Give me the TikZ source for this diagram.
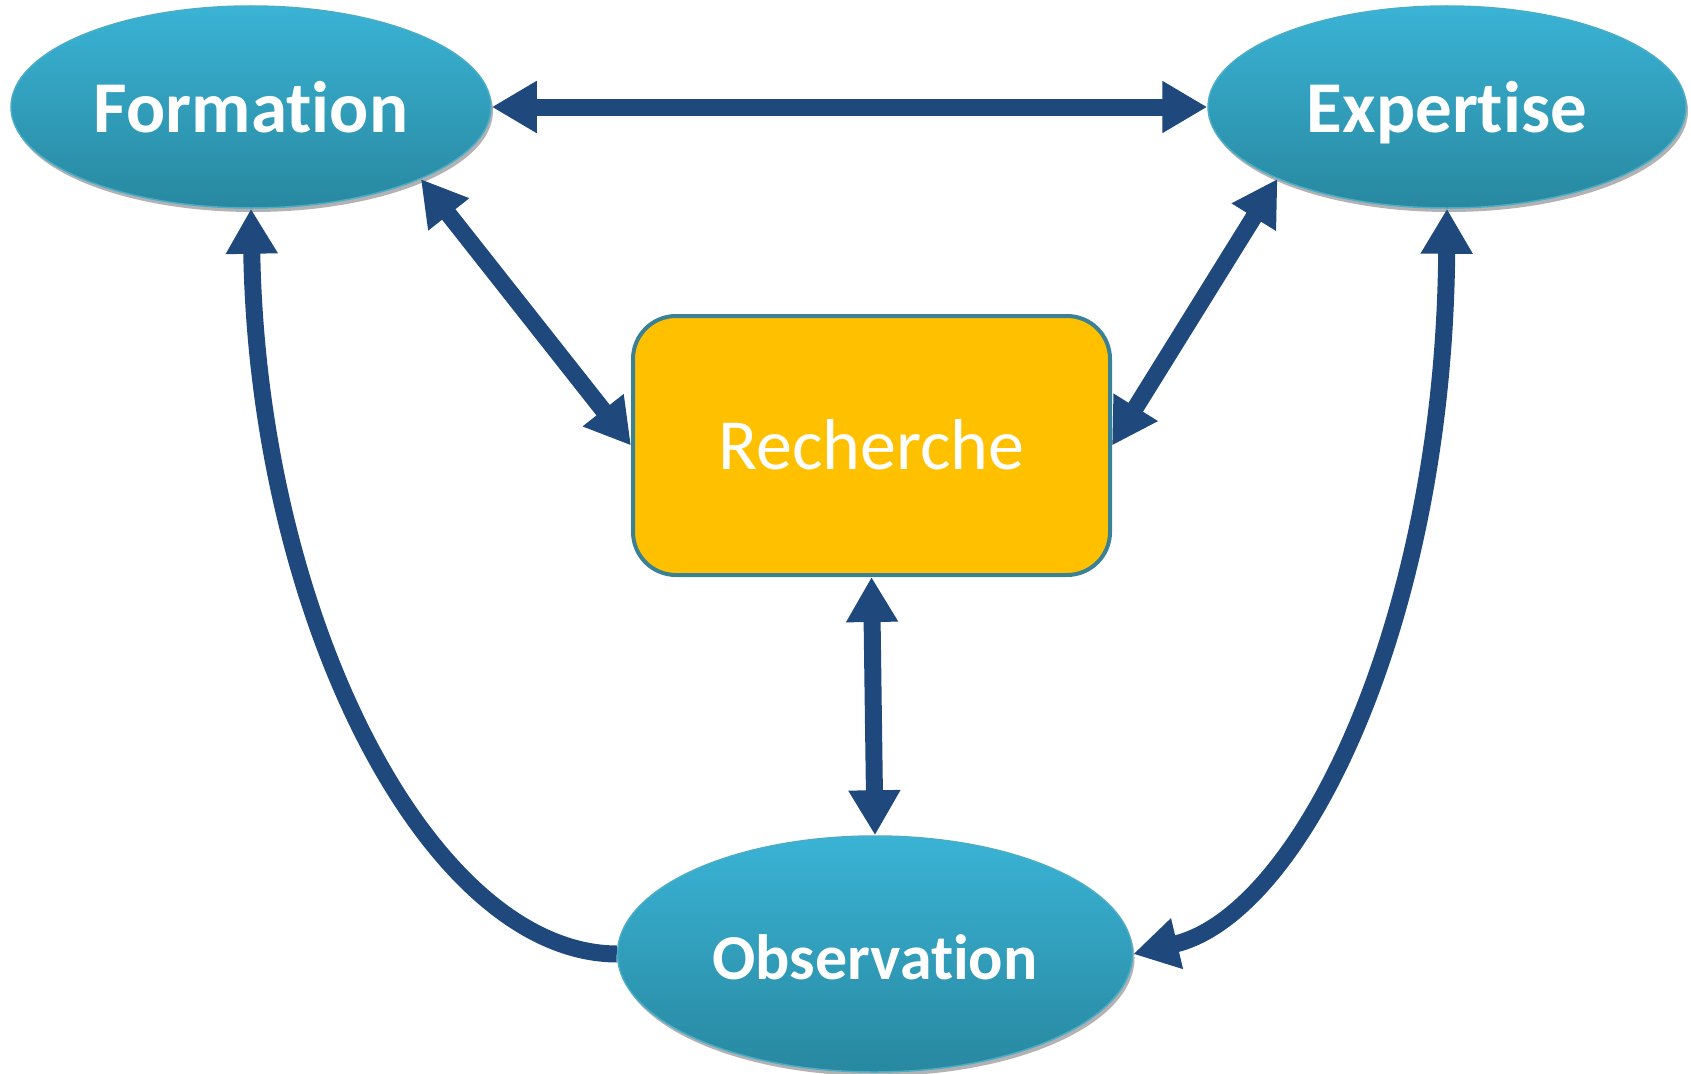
\documentclass[tikz,border=0pt]{standalone}
\usepackage{fontspec}
\setmainfont{Carlito}[Ligatures=CommonOff]
\usetikzlibrary{arrows.meta,shapes.geometric,shadows}
\definecolor{arrowblue}{HTML}{1F497D}
\definecolor{elltop}{HTML}{3AB3D5}
\definecolor{ellbot}{HTML}{2888A0}
\definecolor{ellborder}{HTML}{4BACC6}
\definecolor{boxfill}{HTML}{FFC000}
\definecolor{boxborder}{HTML}{3B8196}
\begin{document}
\begin{tikzpicture}[x=1pt,y=-1pt,
  ell/.style={ellipse, inner sep=0pt, top color=elltop, bottom color=ellbot,
    draw=ellborder, line width=1.5pt, text=white,
    font=\fontsize{73}{80}\selectfont\bfseries, text height=50pt, text depth=0pt,
    drop shadow={shadow xshift=2pt, shadow yshift=-4pt, opacity=0.3, fill=black}},
  recbox/.style={rectangle, rounded corners=43pt, fill=boxfill, draw=boxborder,
    line width=4pt, text=white, font=\fontsize{72}{80}\selectfont,
    text height=47pt, text depth=0pt, minimum width=477pt, minimum height=259pt},
  tipA/.tip={Triangle[length=45pt,width=49pt]},
  oneway/.style={draw=arrowblue, line width=17pt, -tipA},
  twoway/.style={draw=arrowblue, line width=17pt, tipA-tipA}]
\useasboundingbox (0,0) rectangle (1691,1073);
\node[ell, minimum width=480pt, minimum height=202pt] (Formation) at (251,107) {Formation};
\node[ell, minimum width=478pt, minimum height=202pt] (Expertise) at (1447,107) {Expertise};
\node[ell, minimum width=515pt, minimum height=236pt, font=\fontsize{64}{70}\selectfont\bfseries] (Observation) at (875,954) {Observation};
\node[recbox] (Recherche) at (871.5,445.5) {Recherche};
\draw[twoway] (Formation.east) -- (Expertise.west);
\draw[twoway] (Formation.-23) -- (Recherche.west);
\draw[twoway] (Expertise.203) -- (Recherche.east);
\draw[twoway] (Recherche.south) -- (Observation.north);
\draw[oneway] (Observation.west) .. controls (430,953) and (258,620) .. (Formation.south);
\draw[twoway] (Expertise.south) .. controls (1444,620) and (1302,914) .. (Observation.east);
\end{tikzpicture}
\end{document}
